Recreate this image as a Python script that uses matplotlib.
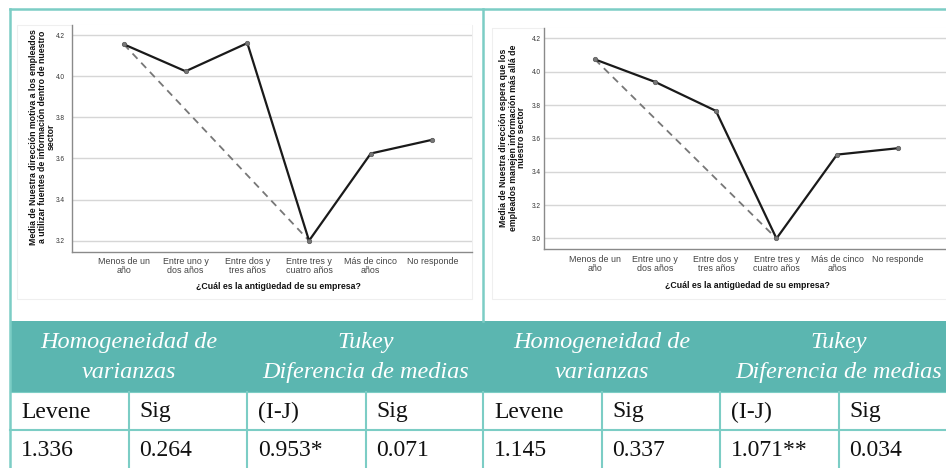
## GRÁFICOS DE MEDIAS + TABLA LEVENE / TUKEY ##
import matplotlib.pyplot as plt
from matplotlib.patches import Rectangle

## DATOS ##
categorias = ["Menos de un\naño", "Entre uno y\ndos años", "Entre dos y\ntres años",
              "Entre tres y\ncuatro años", "Más de cinco\naños", "No responde"]
medias_motiva = [4.155, 4.024, 4.161, 3.200, 3.624, 3.691]
medias_espera = [4.074, 3.938, 3.765, 3.000, 3.503, 3.541]
comparacion = [0, 3]   # grupos comparados (línea discontinua)

ylabel_motiva = ("Media de Nuestra dirección motiva a los empleados\n"
                 "a utilizar fuentes de información dentro de nuestro\nsector")
ylabel_espera = ("Media de Nuestra dirección espera que los\n"
                 "empleados manejen información más allá de\nnuestro sector")
xlabel = "¿Cuál es la antigüedad de su empresa?"
yticks_motiva = [3.2, 3.4, 3.6, 3.8, 4.0, 4.2]
yticks_espera = [3.0, 3.2, 3.4, 3.6, 3.8, 4.0, 4.2]

grupos = ["Homogeneidad de\nvarianzas", "Tukey\nDiferencia de medias"]
columnas = ["Levene", "Sig", "(I-J)", "Sig"]
valores_motiva = ["1.336", "0.264", "0.953*", "0.071"]
valores_espera = ["1.145", "0.337", "1.071**", "0.034"]

## ESTILO ##
W, H = 946, 468
TEAL_BAND = "#5bb6b0"
TEAL_LINE = "#7ccdc5"
SANS = "Liberation Sans"
SERIF = "Liberation Serif"


def px_axes(fig, left, top, right, bottom):
    return fig.add_axes([left / W, (H - bottom) / H, (right - left) / W, (bottom - top) / H])


def plot_medias(ax, medias, yticks, ylim, xlim, ylab, ylab_xy, xlab_xy, ypad, xpad):
    x = list(range(len(medias)))
    ax.plot(x, medias, color="#1a1a1a", lw=1.6, zorder=3)
    ax.plot([x[i] for i in comparacion], [medias[i] for i in comparacion],
            color="#777777", lw=1.3, ls=(0, (4, 3)), zorder=2)
    ax.plot(x, medias, ls="none", marker="o", ms=3.2, mfc="#777777", mec="#555555",
            mew=0.5, zorder=4)
    ax.set_xlim(*xlim)
    ax.set_ylim(*ylim)
    ax.set_yticks(yticks)
    ax.set_yticklabels([f"{t:.1f}" for t in yticks], fontsize=4.7, family=SANS, color="#333333")
    ax.set_xticks(x)
    ax.set_xticklabels(categorias, fontsize=6.4, family=SANS, color="#444444", linespacing=1.0)
    ax.tick_params(axis="both", length=0)
    ax.tick_params(axis="y", pad=ypad)
    ax.tick_params(axis="x", pad=xpad)
    ax.grid(axis="y", color="#d6d6d6", lw=1.0)
    ax.set_axisbelow(True)
    for s in ["top", "right"]:
        ax.spines[s].set_visible(False)
    for s in ["left", "bottom"]:
        ax.spines[s].set_color("#8a8a8a")
        ax.spines[s].set_linewidth(1.0)
    ax.set_ylabel(ylab, fontsize=6.3, family=SANS, fontweight="bold", va="center",
                  linespacing=1.0, color="#111111")
    ax.yaxis.set_label_coords(*ylab_xy)
    ax.set_xlabel(xlabel, fontsize=6.3, family=SANS, fontweight="bold", va="center",
                  color="#111111")
    ax.xaxis.set_label_coords(*xlab_xy)
    ax.set_facecolor("white")


fig = plt.figure(figsize=(W / 100, H / 100), dpi=100)

# lienzo de fondo en píxeles para marcos y tabla
bg = fig.add_axes([0, 0, 1, 1])
bg.set_xlim(0, W)
bg.set_ylim(H, 0)
bg.axis("off")

# marcos tenues de las imágenes SPSS
bg.add_patch(Rectangle((17, 25), 455, 274, fill=False, ec="#efefef", lw=0.8))
bg.add_patch(Rectangle((492, 28), 470, 271, fill=False, ec="#efefef", lw=0.8))

# marco turquesa exterior
bg.plot([10, W], [9, 9], color=TEAL_LINE, lw=1.8)
bg.plot([10, 10], [9, H], color=TEAL_LINE, lw=1.8)
bg.plot([483, 483], [9, 321], color=TEAL_LINE, lw=1.8)

# tabla
band_top, band_bot, row1_bot, row2_bot = 321, 392, 430, 468
bg.add_patch(Rectangle((10, band_top), W - 10, band_bot - band_top, fc=TEAL_BAND, ec="none"))
panel_x = [10, 483]
col_w = 118.5
for px0, valores in zip(panel_x, [valores_motiva, valores_espera]):
    for g, texto in enumerate(grupos):
        cx = px0 + col_w * (2 * g + 1)
        bg.text(cx, (band_top + band_bot) / 2 + 1, texto, ha="center", va="center",
                fontsize=17.5, family=SERIF, style="italic", color="white", linespacing=1.55)
    for c in range(4):
        x0 = px0 + col_w * c
        bg.text(x0 + 11, (band_bot + row1_bot) / 2 + 1, columnas[c], ha="left", va="center",
                fontsize=17, family=SERIF, color="#111111")
        bg.text(x0 + 11, (row1_bot + row2_bot) / 2 + 1, valores[c], ha="left", va="center",
                fontsize=17, family=SERIF, color="#111111")
        if c > 0:
            bg.plot([x0, x0], [band_bot, H], color=TEAL_LINE, lw=1.5)
bg.plot([483, 483], [band_bot, H], color=TEAL_LINE, lw=1.5)
bg.plot([10, W], [row1_bot, row1_bot], color=TEAL_LINE, lw=1.5)
bg.plot([10, W], [band_bot, band_bot], color=TEAL_LINE, lw=0.8)

# gráficos
ax1 = px_axes(fig, 72, 25, 472, 252)
plot_medias(ax1, medias_motiva, yticks_motiva, (3.145, 4.249), (-0.84, 5.64),
            ylabel_motiva, ((42 - 72) / 400, 0.507), (0.515, -0.154), 5, 3.5)

ax2 = px_axes(fig, 544, 28, 946, 249)
plot_medias(ax2, medias_espera, yticks_espera, (2.937, 4.262), (-0.84, 5.8),
            ylabel_espera, ((513 - 544) / 402, 0.503), (0.505, -0.164), 2, 4)

fig.savefig("out.png", dpi=100)
